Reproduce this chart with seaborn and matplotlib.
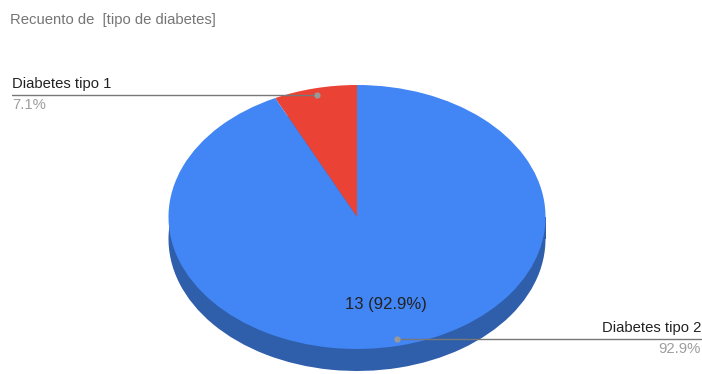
import numpy as np
import matplotlib
matplotlib.use("Agg")
import matplotlib.pyplot as plt
import seaborn as sns

# data
categories = ["Diabetes tipo 1", "Diabetes tipo 2"]
counts = [1, 13]
colors = ["#EA4335", "#4285F4"]
side_color = "#2F5EAB"
title = "Recuento de  [tipo de diabetes]"

sns.set_theme(style="white")
plt.rcParams["font.family"] = ["Liberation Sans", "DejaVu Sans"]

W, H = 702, 374
fig = plt.figure(figsize=(W / 100, H / 100), dpi=100)
ax = fig.add_axes([0, 0, 1, 1])

# pie geometry in pixels (ellipse)
cx, cy = 357, 217       # centre, from top
rx, ry = 188.5, 132     # radii
depth = 22 / ry

# side of the cylinder
ax.pie(counts, colors=[side_color] * len(counts), startangle=90,
       center=(0, -depth), radius=1, wedgeprops=dict(linewidth=0))
ax.fill_between([-1, 1], -depth, 0, color=side_color, linewidth=0)

total = sum(counts)
wedges, texts, autotexts = ax.pie(
    counts, colors=colors, startangle=90, radius=1,
    wedgeprops=dict(linewidth=0),
    autopct=lambda p: f"{round(p * total / 100):d} ({p:.1f}%)" if p > 10 else "",
    pctdistance=0.68, textprops=dict(fontsize=12, color="#222222"))

ax.set_aspect("auto")
ax.set_xlim(-cx / rx, (W - cx) / rx)
ax.set_ylim(-(H - cy) / ry, cy / ry)
ax.axis("off")

def px_x(p):
    return (p - cx) / rx

# callout labels
sides = {0: "left", 1: "right"}
for i, w in enumerate(wedges):
    mid = np.deg2rad((w.theta1 + w.theta2) / 2)
    dx, dy = 0.95 * np.cos(mid), 0.95 * np.sin(mid)
    pct = 100 * counts[i] / total
    if sides[i] == "left":
        x_end = px_x(12)
        ha = "left"
    else:
        x_end = px_x(W - 1)
        ha = "right"
    ax.plot([dx, x_end], [dy, dy], color="#777777", linewidth=1, clip_on=False)
    ax.plot(dx, dy, "o", color="#999999", markersize=3.5)
    ax.annotate(categories[i], (x_end, dy), xytext=(0, 3), textcoords="offset points",
                ha=ha, va="bottom", fontsize=10.7, color="#222222")
    ax.annotate(f"{pct:.1f}%", (x_end, dy), xytext=(0, -2), textcoords="offset points",
                ha=ha, va="top", fontsize=10.7, color="#9E9E9E")

fig.text(10 / W, 1 - 20 / H, title, ha="left", va="center", fontsize=10.7, color="#757575")

fig.savefig("out.png", dpi=100, facecolor="white")
